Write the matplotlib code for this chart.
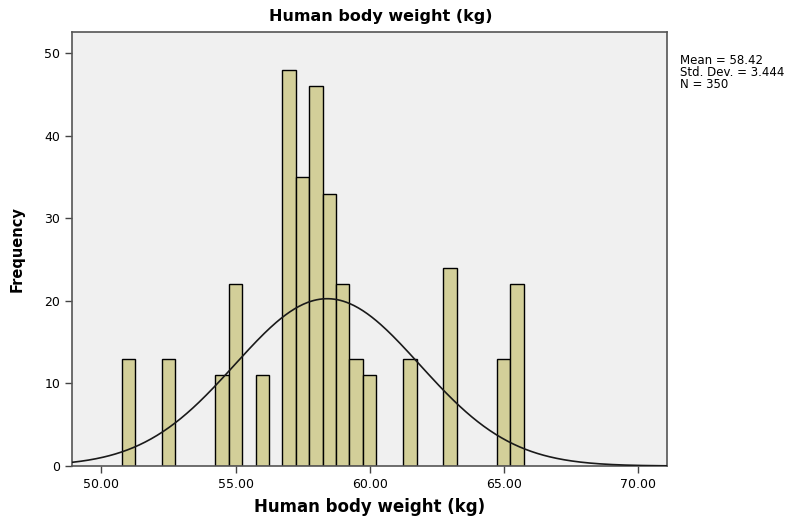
import numpy as np
import matplotlib
matplotlib.use("Agg")
import matplotlib.pyplot as plt

# histogram bins (centre of each 0.5 kg bin) and frequencies
bin_centers = [51.0, 52.5, 54.5, 55.0, 56.0, 57.0, 57.5, 58.0, 58.5, 59.0,
               59.5, 60.0, 61.5, 63.0, 65.0, 65.5]
counts = [13, 13, 11, 22, 11, 48, 35, 46, 33, 22, 13, 11, 13, 24, 13, 22]
bin_width = 0.5

mean = 58.42
std_dev = 3.444
n = 350

x_ticks = [50, 55, 60, 65, 70]
y_ticks = [0, 10, 20, 30, 40, 50]

fig = plt.figure(figsize=(8, 5.23), dpi=100)
ax = fig.add_axes([0.09, 0.109, 0.744, 0.830])
ax.set_facecolor("#f0f0f0")

ax.bar(bin_centers, counts, width=bin_width, color="#d3cf99",
       edgecolor="black", linewidth=1.0, zorder=2)

# fitted normal curve, scaled to counts
xs = np.linspace(48.9, 71.1, 400)
pdf = np.exp(-0.5 * ((xs - mean) / std_dev) ** 2) / (std_dev * np.sqrt(2 * np.pi))
ax.plot(xs, n * bin_width * pdf, color="#1a1a1a", linewidth=1.2, zorder=3)

ax.set_xlim(48.9, 71.1)
ax.set_ylim(0, 52.6)
ax.set_xticks(x_ticks)
ax.set_xticklabels([f"{v:.2f}" for v in x_ticks], fontname="DejaVu Sans", fontsize=9)
ax.set_yticks(y_ticks)
ax.set_yticklabels([str(v) for v in y_ticks], fontname="DejaVu Sans", fontsize=9)
ax.tick_params(direction="out", length=5, width=1, color="#444444")

for s in ax.spines.values():
    s.set_color("#555555")
    s.set_linewidth(1.2)

ax.set_xlabel("Human body weight (kg)", fontname="DejaVu Sans", fontweight="bold",
              fontsize=12, labelpad=5)
ax.set_ylabel("Frequency", fontname="DejaVu Sans", fontweight="bold",
              fontsize=10.5, labelpad=14)

fig.text(381 / 800, 1 - 17 / 523, "Human body weight (kg)", ha="center", va="center",
         fontname="DejaVu Sans", fontweight="bold", fontsize=11.5)

fig.text(680 / 800, 1 - 54 / 523,
         f"Mean = {mean}\nStd. Dev. = {std_dev}\nN = {n}",
         ha="left", va="top", fontname="DejaVu Sans", fontsize=8.5, linespacing=0.9)

fig.savefig("out.png", dpi=100)
